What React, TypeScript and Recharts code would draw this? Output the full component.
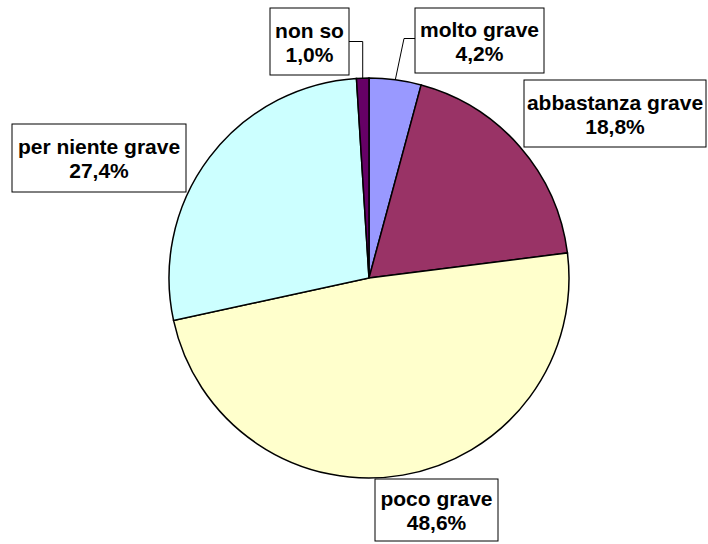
import { PieChart, Pie, Cell } from 'recharts';

const categories = ['molto grave', 'abbastanza grave', 'poco grave', 'per niente grave', 'non so'];
const values = [4.2, 18.8, 48.6, 27.4, 1.0];
const valueLabels = ['4,2%', '18,8%', '48,6%', '27,4%', '1,0%'];

const COLORS = ['#9999FF', '#993366', '#FFFFCC', '#CCFFFF', '#660066'];

// label box placement relative to the pie centre: left, top, width, height
const LABEL_BOXES = [
    { dx: 46, dy: -270, w: 129, h: 65, leader: 'left' },
    { dx: 155, dy: -198, w: 182, h: 67, leader: '' },
    { dx: 6, dy: 201, w: 123, h: 62, leader: '' },
    { dx: -357, dy: -154, w: 174, h: 68, leader: '' },
    { dx: -99, dy: -270, w: 79, h: 67, leader: 'right' },
];

const data = categories.map((name, i) => ({ name, value: values[i], label: valueLabels[i] }));

const RAD = Math.PI / 180;

const renderLabel = (props: any) => {
    const { cx, cy, midAngle, outerRadius, index } = props;
    const box = LABEL_BOXES[index];
    const x = cx + box.dx;
    const y = cy + box.dy;
    const midY = y + box.h / 2;
    const ox = cx + outerRadius * Math.cos(-midAngle * RAD);
    const oy = cy + outerRadius * Math.sin(-midAngle * RAD);
    let leader = null;
    if (box.leader === 'left') {
        leader = <polyline points={`${x},${midY - 2} ${x - 11},${midY - 2} ${ox},${oy}`} fill="none" stroke="#000" strokeWidth={1} />;
    } else if (box.leader === 'right') {
        leader = <polyline points={`${x + box.w},${midY} ${ox},${midY} ${ox},${oy}`} fill="none" stroke="#000" strokeWidth={1} />;
    }
    return (
        <g key={`lbl-${index}`}>
            {leader}
            <rect x={x} y={y} width={box.w} height={box.h} fill="#fff" stroke="#000" strokeWidth={1} />
            <text
                x={x + box.w / 2}
                y={midY - 4}
                textAnchor="middle"
                fontFamily="'Liberation Sans', Arial, sans-serif"
                fontWeight="bold"
                fontSize={21}
                fill="#000"
            >
                <tspan x={x + box.w / 2} y={midY - 4}>{data[index].name}</tspan>
                <tspan x={x + box.w / 2} y={midY + 20}>{data[index].label}</tspan>
            </text>
        </g>
    );
};

export default function App() {
    return (
        <div style={{ position: 'fixed', left: 0, top: 0, width: 708, height: 544, background: '#fff' }}>
            <PieChart width={708} height={544} margin={{ top: 0, right: 0, bottom: 0, left: 0 }}>
                <Pie
                    data={data}
                    dataKey="value"
                    cx={369}
                    cy={278}
                    outerRadius={200}
                    startAngle={90}
                    endAngle={-270}
                    stroke="#000"
                    strokeWidth={1.5}
                    label={renderLabel}
                    labelLine={false}
                    isAnimationActive={false}
                >
                    {data.map((entry, index) => (
                        <Cell key={`cell-${index}`} fill={COLORS[index % COLORS.length]} />
                    ))}
                </Pie>
            </PieChart>
        </div>
    );
}
